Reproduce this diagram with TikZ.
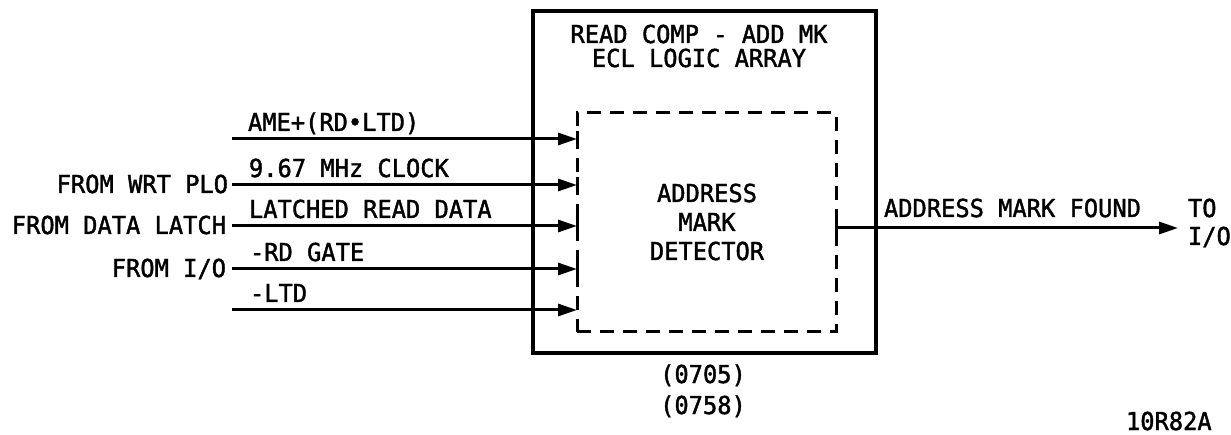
\documentclass[tikz,border=0pt]{standalone}
\usepackage{fontspec}
\setmainfont{DejaVu Sans Mono}
\newfontfamily\lettering{DejaVu Sans Mono}[FakeBold=1.6, FakeStretch=0.96]
\usetikzlibrary{arrows.meta}
\begin{document}
\begin{tikzpicture}[x=1pt,y=-1pt,
  lbl/.style={font=\lettering\fontsize{24.7}{29}\selectfont, inner sep=0pt, outer sep=0pt},
  sig/.style={line width=3pt, -{Triangle[length=19pt,width=12pt]}},
  wire/.style={line width=3pt},
  outerbox/.style={draw, line width=4pt, inner sep=0pt, outer sep=0pt, minimum width=343pt, minimum height=342pt},
  detbox/.style={draw, line width=3pt, dash pattern=on 14pt off 9pt, inner sep=0pt, outer sep=0pt, minimum width=259pt, minimum height=219pt}]
\useasboundingbox (0,0) rectangle (1231,435);
% boxes
\node[outerbox] (ecl) at (704.5,182) {};
\node[detbox] (det) at (706.5,222.5) {};
% titles
\node[lbl, anchor=base] (t1) at (699,43) {READ COMP - ADD MK};
\node[lbl, anchor=base] (t2) at (699,67) {ECL LOGIC ARRAY};
\node[lbl, anchor=base] (d1) at (707,202) {ADDRESS};
\node[lbl, anchor=base] (d2) at (707,231) {MARK};
\node[lbl, anchor=base] (d3) at (707,260) {DETECTOR};
\node[lbl, anchor=base] (n1) at (703,383) {(0705)};
\node[lbl, anchor=base] (n2) at (703,414) {(0758)};
\node[lbl, anchor=base west] (code) at (1126,430) {10R82A};
% input starts
\coordinate (s1) at (232,139);
\coordinate (s2) at (232,185);
\coordinate (s3) at (232,226);
\coordinate (s4) at (232,269);
\coordinate (s5) at (232,310);
% signal labels
\node[lbl, anchor=base west] (l1) at (248,131) {AME+(RD•LTD)};
\node[lbl, anchor=base west] (l2) at (249,177) {9.67 MHz CLOCK};
\node[lbl, anchor=base west] (l3) at (249,218) {LATCHED READ DATA};
\node[lbl, anchor=base west] (l4) at (250,261) {-RD GATE};
\node[lbl, anchor=base west] (l5) at (250,302) {-LTD};
% source labels
\node[lbl, anchor=base east] (f2) at (228,193) {FROM WRT PLO};
\node[lbl, anchor=base east] (f3) at (226,234) {FROM DATA LATCH};
\node[lbl, anchor=base east] (f4) at (226,277) {FROM I/O};
% arrows
\foreach \s in {s1,s2,s3,s4,s5}{
  \draw[sig] (\s) -- (\s -| det.west);
}
\foreach \s in {s1,s2,s3,s4}{
  \draw[wire] (\s -| det.west) ++(0,-8) -- ++(0,16);
}
% output
\coordinate (o1) at (1178,228);
\draw[sig] (det.east |- o1) -- (o1);
\draw[wire] (det.east |- o1) ++(0,-6) -- ++(0,12);
\node[lbl, anchor=base west] (out) at (884,217) {ADDRESS MARK FOUND};
\node[lbl, anchor=base west] (to1) at (1188,217) {TO};
\node[lbl, anchor=base west] (to2) at (1188,245) {I/O};
\end{tikzpicture}
\end{document}
